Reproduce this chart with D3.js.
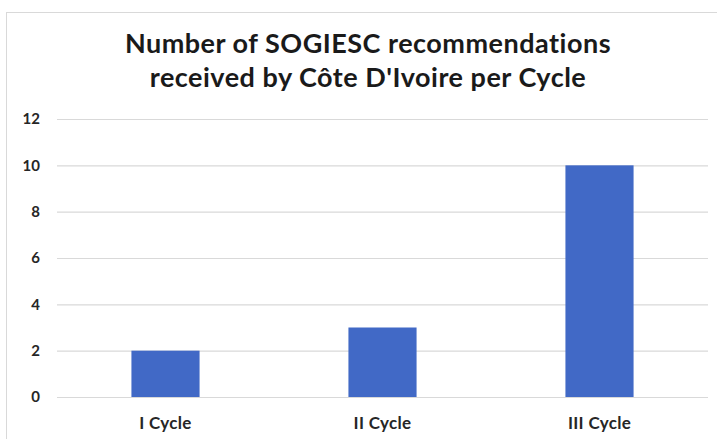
<!DOCTYPE html>
<html>
<head>
<meta charset="utf-8">
<script src="https://cdn.jsdelivr.net/npm/d3@7"></script>
<style>
  body { margin: 0; background: #fff; }
  svg { display: block; font-family: Lato, "Open Sans", sans-serif; }
</style>
</head>
<body>
<svg id="chart" width="717" height="439"></svg>
<script>
// chart data
var cycles = ["I Cycle", "II Cycle", "III Cycle"];
var recommendations = [2, 3, 10];
var yTicks = [0, 2, 4, 6, 8, 10, 12];
var titleLines = ["Number of SOGIESC recommendations", "received by C\u00f4te D'Ivoire per Cycle"];

function draw(){
	var svg = d3.select("#chart");
	var left = 57, right = 708, top = 119, bottom = 397;
	var font = "Lato, 'Open Sans', sans-serif";

	// outer frame of the chart area
	svg.append("rect")
		.attr("x", 6.5).attr("y", 12.5)
		.attr("width", 720).attr("height", 440)
		.attr("fill", "#fff")
		.attr("stroke", "#d9d9d9");

	svg.append("g")
		.selectAll("text")
		.data(titleLines)
		.enter()
		.append("text")
			.attr("x", 368)
			.attr("y", function(d, i){ return 53 + i * 34; })
			.attr("text-anchor", "middle")
			.attr("font-size", "27px")
			.attr("font-weight", "bold")
			.attr("letter-spacing", "0.5px")
			.attr("fill", "#1a1a1a")
			.text(function(d){ return d; });

	var x = d3.scaleBand().domain(cycles).range([left, right]).padding(0);
	var y = d3.scaleLinear().domain([0, 12]).range([bottom, top]);

	// gridlines + y labels
	var yAxis = d3.axisLeft(y)
		.tickValues(yTicks)
		.tickSize(-(right - left))
		.tickPadding(17)
		.tickFormat(d3.format("d"));
	var gy = svg.append("g")
		.attr("transform", "translate(" + left + ",0)")
		.call(yAxis)
		.attr("font-family", font);
	gy.select(".domain").remove();
	gy.selectAll(".tick line")
		.attr("stroke", "#d9d9d9")
		.attr("stroke-width", 1.2);
	gy.selectAll(".tick text")
		.attr("font-size", "15px")
		.attr("font-weight", "bold")
		.attr("fill", "#262626");

	var barW = x.bandwidth() * 0.314;
	svg.append("g")
		.selectAll("rect")
		.data(recommendations)
		.enter()
		.append("rect")
			.attr("x", function(d, i){ return x(cycles[i]) + x.bandwidth() / 2 - barW / 2; })
			.attr("y", function(d){ return y(d); })
			.attr("width", barW)
			.attr("height", function(d){ return y(0) - y(d); })
			.attr("fill", "#4169C6");

	// category labels
	var xAxis = d3.axisBottom(x).tickSize(0).tickPadding(32);
	var gx = svg.append("g")
		.attr("transform", "translate(0," + bottom + ")")
		.call(xAxis)
		.attr("font-family", font);
	gx.select(".domain").remove();
	gx.selectAll(".tick text")
		.attr("dy", 0)
		.attr("font-size", "17px")
		.attr("font-weight", "bold")
		.attr("letter-spacing", "0.3px")
		.attr("fill", "#262626");
}

draw();
</script>
</body>
</html>
